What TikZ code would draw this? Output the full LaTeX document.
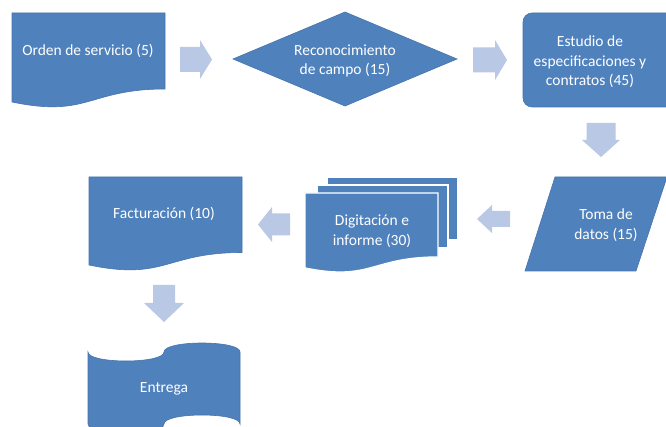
\documentclass[tikz,border=0pt]{standalone}
\usepackage{fontspec}
\setmainfont{Carlito}
\definecolor{boxblue}{HTML}{4F81BD}
\definecolor{boxedge}{HTML}{4675AE}
\definecolor{arrowblue}{HTML}{B9C9E5}
\tikzset{
  shapebox/.style={fill=boxblue, draw=boxedge, line width=0.6pt},
  pagebox/.style={fill=boxblue, draw=white, line width=1.4pt},
  txt/.style={text=white, font=\fontsize{15.5}{19.5}\selectfont, align=center, inner sep=0pt},
  blockarrow/.style={fill=arrowblue},
}
% horizontal block arrow: tail x, head-base x, tip x, centre y, body half, head half
\newcommand{\harrow}[6]{\fill[blockarrow] (#1,#4-#5) -- (#2,#4-#5) -- (#2,#4-#6) -- (#3,#4)
  -- (#2,#4+#6) -- (#2,#4+#5) -- (#1,#4+#5) -- cycle;}
% vertical block arrow: tail y, head-base y, tip y, centre x, body half, head half
\newcommand{\varrow}[6]{\fill[blockarrow] (#4-#5,#1) -- (#4-#5,#2) -- (#4-#6,#2) -- (#4,#3)
  -- (#4+#6,#2) -- (#4+#5,#2) -- (#4+#5,#1) -- cycle;}
\begin{document}
\begin{tikzpicture}[x=1pt,y=-1pt]
\useasboundingbox (0,0) rectangle (666,427);
\fill[white] (0,0) rectangle (666,427);
\clip (0,0) rectangle (666,427);

% 1 Orden de servicio (document)
\draw[shapebox] (12,13) -- (165,13) -- (165,89)
  .. controls (88.5,89) and (88.5,118) .. (12,102) -- cycle;
\node[txt] (orden) at (88,51) {Orden de servicio (5)};

% 2 Reconocimiento (diamond)
\draw[shapebox] (233,59) -- (345,12) -- (457,59) -- (345,106) -- cycle;
\node[txt] (recon) at (345,61) {Reconocimiento\\de campo (15)};

% 3 Estudio (rounded rectangle)
\draw[shapebox, rounded corners=9pt] (523,13) rectangle (680,107);
\node[txt] (estudio) at (590,62) {Estudio de\\especificaciones y\\contratos (45)};

% 4 Toma de datos (parallelogram)
\draw[shapebox] (525,271) -- (555,177) -- (667,177) -- (636,271) -- cycle;
\node[txt] (toma) at (606,225) {Toma de\\datos (15)};

% 5 Digitacion (multidocument)
\draw[pagebox] (327,177) rectangle (458,240);
\draw[pagebox] (317,185) rectangle (448,248);
\draw[pagebox] (305,193) -- (438,193) -- (438,257)
  .. controls (371.5,257) and (371.5,281.5) .. (305,268) -- cycle;
\node[txt] (digit) at (372,231) {Digitación e\\informe (30)};

% 6 Facturacion (document)
\draw[shapebox] (89,177) -- (242,177) -- (242,252.5)
  .. controls (165.5,252.5) and (165.5,281) .. (89,265) -- cycle;
\node[txt] (fact) at (164,214) {Facturación (10)};

% 7 Entrega (punched tape)
\draw[shapebox] (88,352) .. controls (88,364) and (164,364) .. (164,352)
  .. controls (164,340) and (240,340) .. (240,352) -- (240,424)
  .. controls (240,412) and (164,412) .. (164,424)
  .. controls (164,436) and (88,436) .. (88,424) -- cycle;
\node[txt] (entrega) at (164,389) {Entrega};

% block arrows
\harrow{180}{200}{212}{59.5}{12.5}{19.5}
\harrow{473}{495}{507}{60}{12.5}{20}
\varrow{123}{140}{157}{601}{14.5}{19}
\harrow{510}{492}{477}{219}{8}{14}
\harrow{290}{272}{258}{224.5}{11}{17.5}
\varrow{285}{303}{322}{164}{11}{20}
\end{tikzpicture}
\end{document}
